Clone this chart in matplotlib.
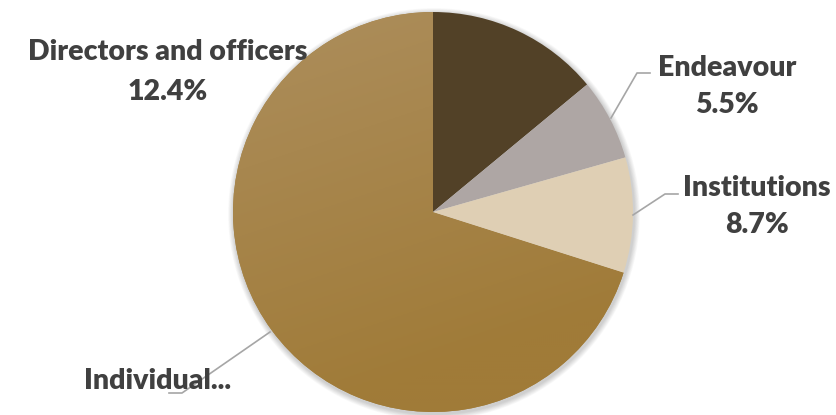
import numpy as np
import matplotlib
matplotlib.use('Agg')
import matplotlib.pyplot as plt

# slice shares as they appear in the picture, clockwise from the top
names = ['Directors and officers', 'Endeavour', 'Institutions', 'Individual...']
shares = [14.0, 6.6, 9.3, 70.1]
pct_labels = ['12.4%', '5.5%', '8.7%', '']
colors = ['#524127', '#aea6a4', '#dfcfb4', '#a3803f']

W, H = 836, 415
fig = plt.figure(figsize=(W/100, H/100), dpi=100)
ax = fig.add_axes([0, 0, 1, 1])

cx, cy, r = 433, 203, 200

# soft shadow behind the pie
for k in range(8):
    c = plt.Circle((cx+1, cy-2), r+1+k*0.7, color='black', alpha=0.025, lw=0)
    ax.add_patch(c)

wedges, _ = ax.pie(shares, colors=colors, startangle=90, counterclock=False,
                   center=(cx, cy), radius=r, frame=True,
                   wedgeprops={'linewidth': 0})

# gradient on the big slice: lighter at top-left, darker toward bottom
yy, xx = np.mgrid[0:1:200j, 0:1:200j]
light = np.array([0xb0, 0x93, 0x66]) / 255
dark = np.array([0xa0, 0x7b, 0x38]) / 255
t = np.clip(0.75*yy + 0.25*(1-xx) - 0.2, 0, 1)
img = dark[None, None, :]*(1-t[..., None]) + light[None, None, :]*t[..., None]
im = ax.imshow(img, extent=(cx-r, cx+r, cy-r, cy+r), origin='lower', zorder=2)
im.set_clip_path(wedges[3])
for w in wedges[:3]:
    w.set_zorder(3)

ax.set_xlim(0, W)
ax.set_ylim(0, H)
ax.set_aspect('auto')
ax.axis('off')

txt = dict(fontfamily=['Lato', 'DejaVu Sans'], fontweight='heavy', fontsize=20.5,
           color='#404040', ha='center', va='center', zorder=5)
lc = '#a6a6a6'

# Directors and officers
ax.text(168, H-52, names[0], **txt)
ax.text(168, H-92, pct_labels[0], **txt)

# Endeavour
ax.plot([611, 637, 650], [H-118, H-73, H-73], color=lc, lw=1.2, zorder=4)
ax.text(727, H-68, names[1], **txt)
ax.text(727, H-105, pct_labels[1], **txt)

# Institutions
ax.plot([633, 665, 678], [H-215, H-194, H-194], color=lc, lw=1.2, zorder=4)
ax.text(757, H-188, names[2], **txt)
ax.text(757, H-225, pct_labels[2], **txt)

# Individual
ax.plot([270, 182, 169], [H-332, H-393, H-393], color=lc, lw=1.2, zorder=4)
t4 = dict(txt)
t4['ha'] = 'left'
ax.text(84, H-381, names[3], **t4)

fig.savefig('out.png', dpi=100)
